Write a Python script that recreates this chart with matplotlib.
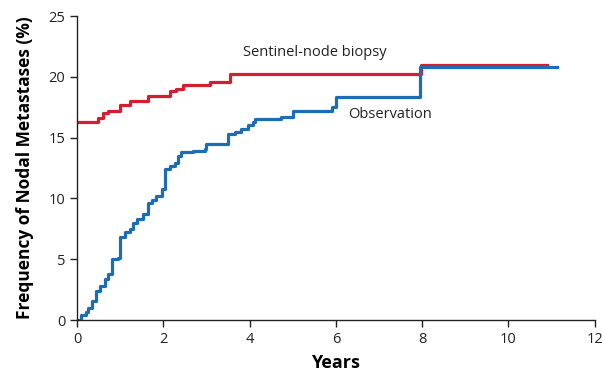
import matplotlib
matplotlib.use("Agg")
import matplotlib.pyplot as plt

plt.rcParams['font.family'] = ['Open Sans', 'DejaVu Sans']

# Sentinel-node biopsy (cumulative frequency, %)
snb_years = [0.0, 0.49, 0.6, 0.72, 1.0, 1.22, 1.64, 2.15, 2.3, 2.45, 3.07, 3.54, 7.97, 10.9]
snb_freq = [16.3, 16.65, 17.0, 17.2, 17.7, 18.0, 18.4, 18.8, 19.0, 19.3, 19.6, 20.2, 21.0, 21.0]

# Observation (cumulative frequency, %)
obs_years = [0.0, 0.1, 0.2, 0.26, 0.34, 0.45, 0.53, 0.65, 0.72, 0.8, 0.95, 1.0, 1.1,
             1.22, 1.3, 1.4, 1.53, 1.64, 1.74, 1.84, 1.96, 2.03, 2.15, 2.27, 2.34,
             2.42, 2.69, 2.96, 3.0, 3.42, 3.5, 3.65, 3.8, 3.96, 4.07, 4.12, 4.73,
             5.0, 5.92, 6.0, 7.95, 11.12]
obs_freq = [0.0, 0.4, 0.7, 1.0, 1.6, 2.4, 2.8, 3.4, 3.8, 5.0, 5.1, 6.8, 7.2,
            7.5, 8.0, 8.3, 8.7, 9.6, 9.9, 10.2, 10.8, 12.4, 12.7, 12.9, 13.5,
            13.8, 13.9, 14.1, 14.5, 14.5, 15.3, 15.5, 15.7, 16.0, 16.3, 16.5, 16.7,
            17.2, 17.5, 18.3, 20.8, 20.8]

x_ticks = [0, 2, 4, 6, 8, 10, 12]
y_ticks = [0, 5, 10, 15, 20, 25]

red = '#d41f2f'
blue = '#1d6db5'

fig = plt.figure(figsize=(6.02, 3.81), dpi=100)
ax = fig.add_axes([0.128, 0.160, 0.860, 0.798])

ax.plot(snb_years, snb_freq, drawstyle='steps-post', color=red, lw=2.3, solid_joinstyle='round')
ax.plot(obs_years, obs_freq, drawstyle='steps-post', color=blue, lw=2.3, solid_joinstyle='round')

ax.set_xlim(0, 12)
ax.set_ylim(0, 25)
ax.set_xticks(x_ticks)
ax.set_yticks(y_ticks)
ax.spines['top'].set_visible(False)
ax.spines['right'].set_visible(False)
for s in ['left', 'bottom']:
    ax.spines[s].set_color('#222222')
    ax.spines[s].set_linewidth(1.0)
ax.tick_params(direction='out', length=5, width=1.0, colors='#222222', labelsize=10.5)

ax.set_xlabel('Years', fontsize=13, fontweight='bold', labelpad=5)
ax.set_ylabel('Frequency of Nodal Metastases (%)', fontsize=12.5, fontweight='bold', labelpad=10)

ax.text(3.84, 22.0, 'Sentinel-node biopsy', fontsize=10.5, color='#222222', va='center', ha='left')
ax.text(6.29, 16.9, 'Observation', fontsize=10.5, color='#222222', va='center', ha='left')

fig.savefig('out.png', dpi=100)
